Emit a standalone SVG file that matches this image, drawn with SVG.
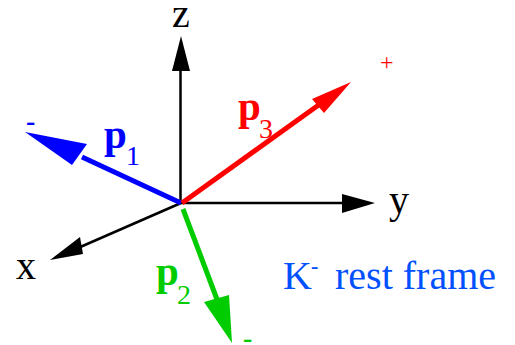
<svg xmlns="http://www.w3.org/2000/svg" width="515" height="345" viewBox="0 0 515 345">
<style>
.lbl{font-family:"Liberation Serif","Times New Roman",serif;}
.ax{stroke:#000;stroke-width:2.5;fill:none}
.vec{stroke-width:5;fill:none}
.b{font-weight:bold;font-size:41px}
.sub{font-size:28px}
</style>
<rect width="515" height="345" fill="#fff"/>
<g id="connectors">
  <!-- z axis -->
  <line class="ax" x1="180.5" y1="203" x2="180.5" y2="68"/>
  <polygon points="181,36 172,71 190,71" fill="#000"/>
  <!-- y axis -->
  <line class="ax" x1="181" y1="203" x2="345" y2="203"/>
  <polygon points="375,203 342,194 342,213" fill="#000"/>
  <!-- x axis -->
  <line class="ax" x1="181" y1="203" x2="78" y2="248"/>
  <polygon points="50,260 80,237 83,254" fill="#000"/>
  <!-- p1 blue -->
  <line class="vec" stroke="#0000ff" x1="181" y1="203" x2="82" y2="157"/>
  <polygon points="25,132 87,144 72,165" fill="#0000ff"/>
  <!-- p3 red -->
  <line class="vec" stroke="#ff0000" x1="182" y1="203" x2="320" y2="104"/>
  <polygon points="351,82 312,99 324,113" fill="#ff0000"/>
  <!-- p2 green -->
  <line class="vec" stroke="#00cc00" x1="183" y1="209" x2="218" y2="302"/>
  <polygon points="232,343 204,302 229,295" fill="#00cc00"/>
</g>
<g id="axis-z"><text class="lbl" x="172" y="27" font-size="40">z</text></g>
<g id="axis-y"><text class="lbl" x="389" y="213" font-size="40">y</text></g>
<g id="axis-x"><text class="lbl" x="16" y="279" font-size="40">x</text></g>
<g id="p1" fill="#0000ff">
  <text class="lbl" x="26" y="130" font-size="28" font-weight="bold">-</text>
  <text class="lbl"><tspan class="b" x="104" y="148">p</tspan><tspan class="sub" x="126" y="165">1</tspan></text>
</g>
<g id="p3" fill="#ff0000">
  <text class="lbl" x="380" y="70" font-size="24">+</text>
  <text class="lbl"><tspan class="b" x="238" y="120">p</tspan><tspan class="sub" x="259" y="138">3</tspan></text>
</g>
<g id="p2" fill="#00cc00">
  <text class="lbl" x="243" y="347" font-size="28" font-weight="bold">-</text>
  <text class="lbl"><tspan class="b" x="156" y="285">p</tspan><tspan class="sub" x="177" y="304">2</tspan></text>
</g>
<g id="frame-label" fill="#0050ff">
  <text class="lbl" font-size="40"><tspan x="283" y="289">K</tspan><tspan x="311" y="273" font-size="22" font-weight="bold">-</tspan><tspan x="335" y="289">rest frame</tspan></text>
</g>
</svg>
